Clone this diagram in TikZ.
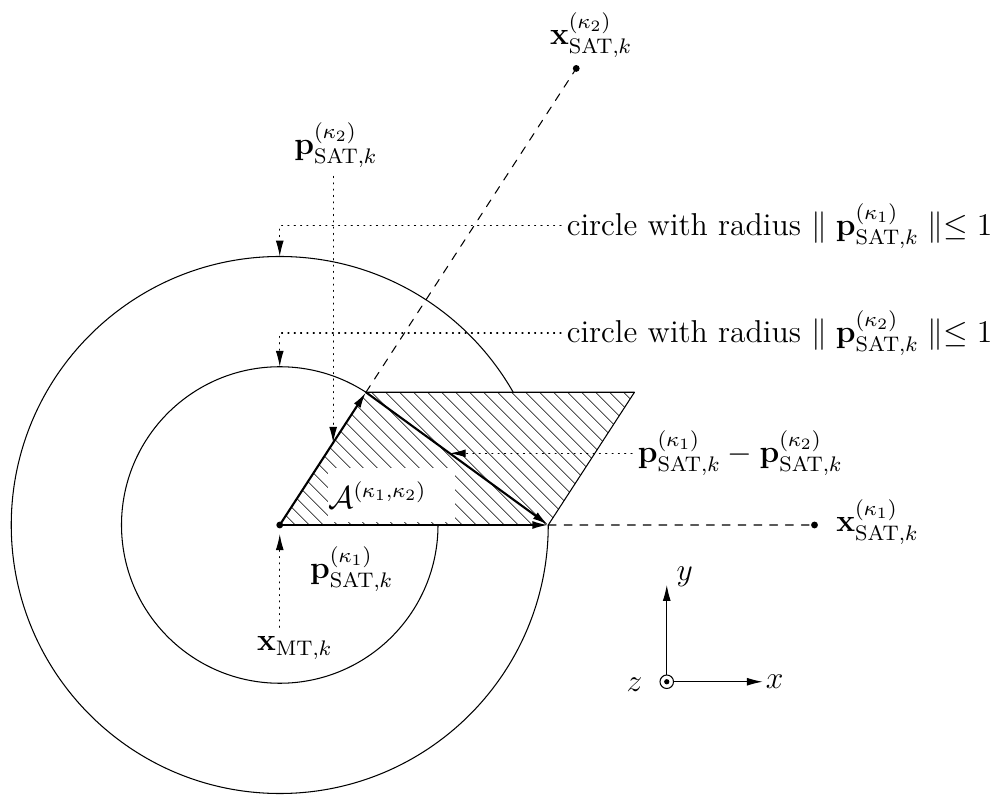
\documentclass[tikz,border=0pt]{standalone}
\usepackage{amsmath}
\usetikzlibrary{arrows.meta,calc,patterns.meta}
\begin{document}
\begin{tikzpicture}[>={Latex[length=6pt,width=3pt]},line join=round,line cap=round,font=\large,
		vec/.style={->,line width=.8pt},lead/.style={->,dotted},
		hatch/.style={pattern={Lines[angle=-45,distance=4pt,line width=.3pt]}}]
				\useasboundingbox (-3.73,-3.6) rectangle (9.67,7);
				\path (0,0) coordinate (O)
				++(0:3.58) coordinate (P1)
				++(57:2.11) coordinate (Q)
				++(180:3.58) coordinate (P2);
				\path (7.13,0) coordinate (S1)
				($(O)!3.44!(P2)$) coordinate (S2)
				(90:3.58) coordinate (T1)
				(90:2.11) coordinate (T2)
				($(O)!.62!(P2)$) coordinate (U2)
				($(P2)!.46!(P1)$) coordinate (U12);
				\draw (O) circle(3.58) (O) circle(2.11);
				\fill[white] (O)--(P1)--(Q)--(P2)--cycle;
				\fill[hatch] (O)--(P1)--(Q)--(P2)--cycle; % vùng gạch chéo
				\draw (P1)--(Q)--(P2);
				\node[anchor=west,fill=white,inner xsep=0pt,text width=1.69cm,minimum height=.71cm] (A) at (.64,.4) {$\mathcal{A}^{(\kappa_1,\kappa_2)}$};
				\draw[dashed] (P2)--(S2) (P1)--(S1);
				\draw[vec] (O)--(P1);
				\draw[vec] (O)--(P2);
				\draw[vec] (P2)--(P1);
				\foreach \x in {O,S1,S2}{\fill (\x) circle(1.3pt);}
				\node (lS2) at ($(S2)+(.2,.44)$) {$\mathbf{x}^{(\kappa_2)}_{\mathrm{SAT},k}$};
				\node (lS1) at ($(S1)+(.84,.04)$) {$\mathbf{x}^{(\kappa_1)}_{\mathrm{SAT},k}$};
				\node (lP2) at (.75,5.07) {$\mathbf{p}^{(\kappa_2)}_{\mathrm{SAT},k}$};
				\node (lP1) at (.96,-.59) {$\mathbf{p}^{(\kappa_1)}_{\mathrm{SAT},k}$};
				\node (lMT) at (.2,-1.64) {$\mathbf{x}_{\mathrm{MT},k}$};
				\node[anchor=west,inner xsep=2pt] (c1) at (3.75,3.99) {circle with radius $\parallel \mathbf{p}^{(\kappa_1)}_{\mathrm{SAT},k}\parallel\leq 1$};
				\node[anchor=west,inner xsep=2pt] (c2) at (3.75,2.56) {circle with radius $\parallel \mathbf{p}^{(\kappa_2)}_{\mathrm{SAT},k}\parallel\leq 1$};
				\node[anchor=west,inner xsep=2pt] (lD) at ($(U12)+(2.43,0)$) {$\mathbf{p}^{(\kappa_1)}_{\mathrm{SAT},k}-\mathbf{p}^{(\kappa_2)}_{\mathrm{SAT},k}$};
				\draw[lead] (c1.west) -| (T1);
				\draw[lead] (c2.west) -| (T2);
				\draw[lead] (lP2.south -| U2) -- (U2);
				\draw[lead] (lD.west) -- (U12);
				\draw[lead,shorten >=3.5pt] (lMT.north -| O) -- (O);
				% hệ trục
				\path (5.16,-2.09) coordinate (Z)
				++(0,1.29) coordinate (Y)
				(Z) ++(1.28,0) coordinate (X);
				\draw[->] (Z)--(Y);
				\draw[->] (Z)--(X);
				\draw[fill=white] (Z) circle(.09);
				\fill (Z) circle(.035);
				\node (lY) at ($(Y)+(.24,.11)$) {$y$};
				\node (lX) at ($(X)+(.16,0)$) {$x$};
				\node (lZ) at ($(Z)+(-.43,-.04)$) {$z$};
		\end{tikzpicture}
\end{document}
